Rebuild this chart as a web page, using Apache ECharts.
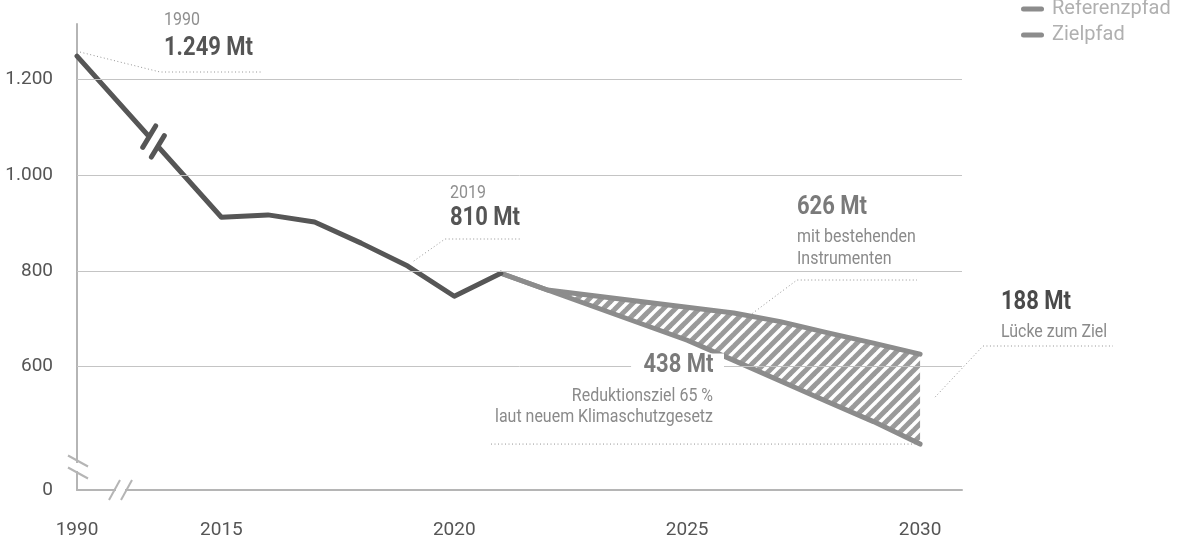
<!DOCTYPE html>
<html>
<head>
<meta charset="utf-8">
<script src="https://cdn.jsdelivr.net/npm/echarts@6/dist/echarts.min.js"></script>
<style>
  html, body { margin: 0; padding: 0; background: #fff; }
  #chart { width: 1179px; height: 540px; }
</style>
</head>
<body>
<div id="chart"></div>
<script>
// Treibhausgasemissionen Deutschland in Mt CO2-Äquivalenten
const historyYears = [1990, 2015, 2016, 2017, 2018, 2019, 2020, 2021];
const historyValues = [1249, 912, 917, 902, 858, 810, 747, 795];
const pathYears = [2021, 2022, 2023, 2024, 2025, 2026, 2027, 2028, 2029, 2030];
const referenceValues = [795, 760, 748, 736, 724, 712, 694, 671, 649, 626];
const targetValues = [795, 760, 725, 690, 655, 613, 570, 527, 485, 438];
const xTickYears = [1990, 2015, 2020, 2025, 2030];
const yTickValues = [0, 600, 800, 1000, 1200];

// Both axes are broken: 1990 sits just left of the 2015 block, 0 sits at the foot of the value axis.
const X_GAP_POS = 2011.9;
const Y_FLOOR = 342;
const xPos = (year) => (year < 2015 ? X_GAP_POS : year);
const yPos = (v) => (v === 0 ? Y_FLOOR : v);

const FONT = 'Roboto';
const DARK = '#565656';
const PATH = '#8c8c8c';
const AXIS = '#b5b5b5';

// Diagonal stripes for the gap between the two paths
function hatchPattern() {
  const n = 12;
  const c = document.createElement('canvas');
  c.width = n; c.height = n;
  const g = c.getContext('2d');
  g.fillStyle = '#fff';
  g.fillRect(0, 0, n, n);
  g.strokeStyle = '#9a9a9a';
  g.lineWidth = 5;
  for (const o of [-n, 0, n]) {
    g.beginPath(); g.moveTo(o - 3, n + 3); g.lineTo(o + n + 3, -3); g.stroke();
  }
  return c;
}
const HATCH = { image: hatchPattern(), repeat: 'repeat' };

const thousands = (v) => String(v).replace(/\B(?=(\d{3})+(?!\d))/g, '.');
const xLabelPos = xTickYears.map(xPos);
const yLabelPos = yTickValues.map(yPos);

const chart = echarts.init(document.getElementById('chart'), null, { renderer: 'canvas' });

const option = {
  animation: false,
  textStyle: { fontFamily: FONT },
  grid: { left: 77, right: 217, top: 24, bottom: 50 },
  legend: {
    data: ['Referenzpfad', 'Zielpfad'],
    orient: 'vertical',
    left: 1016,
    top: -6,
    itemWidth: 23,
    itemHeight: 5,
    itemGap: 6,
    selectedMode: false,
    icon: 'path://M2.5,0H20.5A2.5,2.5,0,0,1,20.5,5H2.5A2.5,2.5,0,0,1,2.5,0Z',
    textStyle: { color: '#b0b0b0', fontSize: 20, fontFamily: FONT, padding: [0, 0, 0, 3] }
  },
  xAxis: {
    type: 'value',
    min: X_GAP_POS,
    max: 2030.9,
    splitLine: { show: false },
    axisTick: { show: false },
    axisLine: { show: true, onZero: false, lineStyle: { color: AXIS, width: 2 } },
    axisLabel: {
      customValues: xLabelPos,
      formatter: (v) => {
        const i = xLabelPos.findIndex((p) => Math.abs(p - v) < 1e-6);
        return i >= 0 ? String(xTickYears[i]) : '';
      },
      color: '#555', fontSize: 19, margin: 31, fontFamily: FONT
    }
  },
  yAxis: {
    type: 'value',
    min: Y_FLOOR,
    max: 1316,
    splitLine: { show: false },
    axisTick: { show: false },
    axisLine: { show: true, lineStyle: { color: AXIS, width: 2 } },
    axisLabel: {
      customValues: yLabelPos,
      formatter: (v) => {
        const i = yLabelPos.findIndex((p) => Math.abs(p - v) < 1e-6);
        return i >= 0 ? thousands(yTickValues[i]) : '';
      },
      color: '#555', fontSize: 19, margin: 24, fontFamily: FONT
    }
  },
  series: [
    {
      // horizontal reference lines at the labelled values
      name: 'raster', type: 'line', z: 0, silent: true, symbol: 'none',
      lineStyle: { width: 0, opacity: 0 },
      data: pathYears.map((y, i) => [y, targetValues[i]]),
      markLine: {
        silent: true, symbol: ['none', 'none'], label: { show: false },
        lineStyle: { type: 'solid', color: '#c4c4c4', width: 1 },
        data: yTickValues.filter((v) => v > 0).map((v) => ({ yAxis: v }))
      }
    },
    {
      name: 'Lücke', type: 'custom', z: 1, silent: true,
      data: [[pathYears[0], referenceValues[0]]],
      renderItem: (params, api) => {
        const upper = pathYears.map((y, i) => api.coord([y, referenceValues[i]]));
        const lower = pathYears.map((y, i) => api.coord([y, targetValues[i]])).reverse();
        return {
          type: 'polygon',
          shape: { points: upper.concat(lower) },
          style: { fill: HATCH, stroke: null }
        };
      }
    },
    {
      name: 'Referenzpfad', type: 'line', z: 3, symbol: 'none', color: PATH,
      lineStyle: { color: PATH, width: 5, cap: 'round', join: 'round' },
      data: pathYears.map((y, i) => [y, referenceValues[i]])
    },
    {
      name: 'Zielpfad', type: 'line', z: 3, symbol: 'none', color: PATH,
      lineStyle: { color: PATH, width: 5, cap: 'round', join: 'round' },
      data: pathYears.map((y, i) => [y, targetValues[i]])
    },
    {
      name: 'Emissionen', type: 'line', z: 4, symbol: 'none', color: DARK,
      lineStyle: { color: DARK, width: 5, cap: 'round', join: 'round' },
      data: historyYears.map((y, i) => [xPos(y), historyValues[i]])
    }
  ]
};

chart.setOption(option);

// Annotations, leader lines and break marks placed from data coordinates
const px = (x, y) => chart.convertToPixel({ gridIndex: 0 }, [x, y]);
const G = [];
const dotted = (points) => G.push({
  type: 'polyline', z: 100, silent: true,
  shape: { points },
  style: { stroke: '#939393', lineWidth: 1, lineDash: [1, 2.5], fill: null }
});
// Condensed annotation text: horizontally squeezed around its anchor point
const text = (str, x, y, opts, sx) => G.push({
  type: 'text', z: 101, silent: true,
  x, y, originX: 0, originY: 0, scaleX: sx || 0.84,
  style: Object.assign({
    text: str, x: 0, y: 0, textVerticalAlign: 'middle', textAlign: 'left',
    fontSize: 19, fontFamily: FONT, fontWeight: 'normal', fill: '#8a8a8a'
  }, opts || {})
});
const bold = (str, x, y, color, opts) =>
  text(str, x, y, Object.assign({ fontSize: 25, fontWeight: 'bold', fill: color }, opts || {}), 0.88);
const seg = (a, b, color, width, cap) => G.push({
  type: 'line', z: 102, silent: true,
  shape: { x1: a[0], y1: a[1], x2: b[0], y2: b[1] },
  style: { stroke: color, lineWidth: width, lineCap: cap || 'round' }
});

// 1990
const a1990 = px(xPos(1990), historyValues[0]);
dotted([[a1990[0] + 3, a1990[1] - 4], [160, 72], [262, 72]]);
text('1990', 164, 20, { fill: '#8f8f8f' });
bold('1.249 Mt', 164, 49, '#555');

// 2019
const i2019 = historyYears.indexOf(2019);
const a2019 = px(2019, historyValues[i2019]);
dotted([[a2019[0] + 6, a2019[1] - 5], [445, 239], [522, 239]]);
text('2019', 450, 193, { fill: '#8f8f8f' });
bold('810 Mt', 450, 219, '#555');

// Referenzpfad
const k = pathYears.indexOf(2026);
const refAt = referenceValues[k] + 0.4 * (referenceValues[k + 1] - referenceValues[k]);
const a626 = px(2026.4, refAt);
dotted([[a626[0], a626[1] - 3], [797, 280], [917, 280]]);
bold('626 Mt', 797, 208, '#7a7a7a');
text('mit bestehenden', 797, 237);
text('Instrumenten', 797, 259);

// Lücke
const last = pathYears.length - 1;
const aGap = px(2030, (referenceValues[last] + targetValues[last]) / 2);
dotted([[aGap[0] + 15, aGap[1] - 2], [983, 346], [1113, 346]]);
bold('188 Mt', 1001, 303, '#4a4a4a');
text('Lücke zum Ziel', 1001, 332);

// Zielpfad
const a438 = px(2030, targetValues[last]);
dotted([[491, a438[1]], [a438[0], a438[1]]]);
bold('438 Mt', 724, 366, '#7a7a7a', { textAlign: 'right', backgroundColor: '#fff', padding: [0, 12, 0, 14] });
text('Reduktionsziel 65 %', 713, 396, { textAlign: 'right' });
text('laut neuem Klimaschutzgesetz', 713, 417, { textAlign: 'right' });

// Break on the 1990–2015 segment
const p1 = px(xPos(1990), historyValues[0]);
const p2 = px(2015, historyValues[1]);
const dx = p2[0] - p1[0], dy = p2[1] - p1[1], len = Math.hypot(dx, dy);
const u = [dx / len, dy / len];
const t = 0.53;
const C = [p1[0] + t * dx, p1[1] + t * dy];
const phi = Math.atan2(u[1], u[0]) + 73 * Math.PI / 180;
const v = [Math.cos(phi), Math.sin(phi)];
seg([C[0] - 5 * u[0], C[1] - 5 * u[1]], [C[0] + 5 * u[0], C[1] + 5 * u[1]], '#fff', 10, 'butt');
for (const s of [-6.5, 6.5]) {
  const c = [C[0] + s * u[0], C[1] + s * u[1]];
  seg([c[0] - 12.5 * v[0], c[1] - 12.5 * v[1]], [c[0] + 12.5 * v[0], c[1] + 12.5 * v[1]], DARK, 5);
}

// Breaks on both axes
const origin = px(X_GAP_POS, Y_FLOOR);
const ox = origin[0], oy = origin[1];
G.push({ type: 'rect', z: 100, silent: true, shape: { x: ox - 3, y: oy - 27, width: 6, height: 8 }, style: { fill: '#fff' } });
G.push({ type: 'rect', z: 100, silent: true, shape: { x: ox + 39, y: oy - 3, width: 9, height: 6 }, style: { fill: '#fff' } });
for (const cy of [oy - 29, oy - 17]) seg([ox - 9, cy - 5.5], [ox + 11, cy + 5.5], AXIS, 2, 'butt');
for (const cx of [ox + 37.5, ox + 49.5]) seg([cx - 5.5, oy + 10], [cx + 5.5, oy - 10], AXIS, 2, 'butt');

chart.setOption({ graphic: { elements: G } });
</script>
</body>
</html>
